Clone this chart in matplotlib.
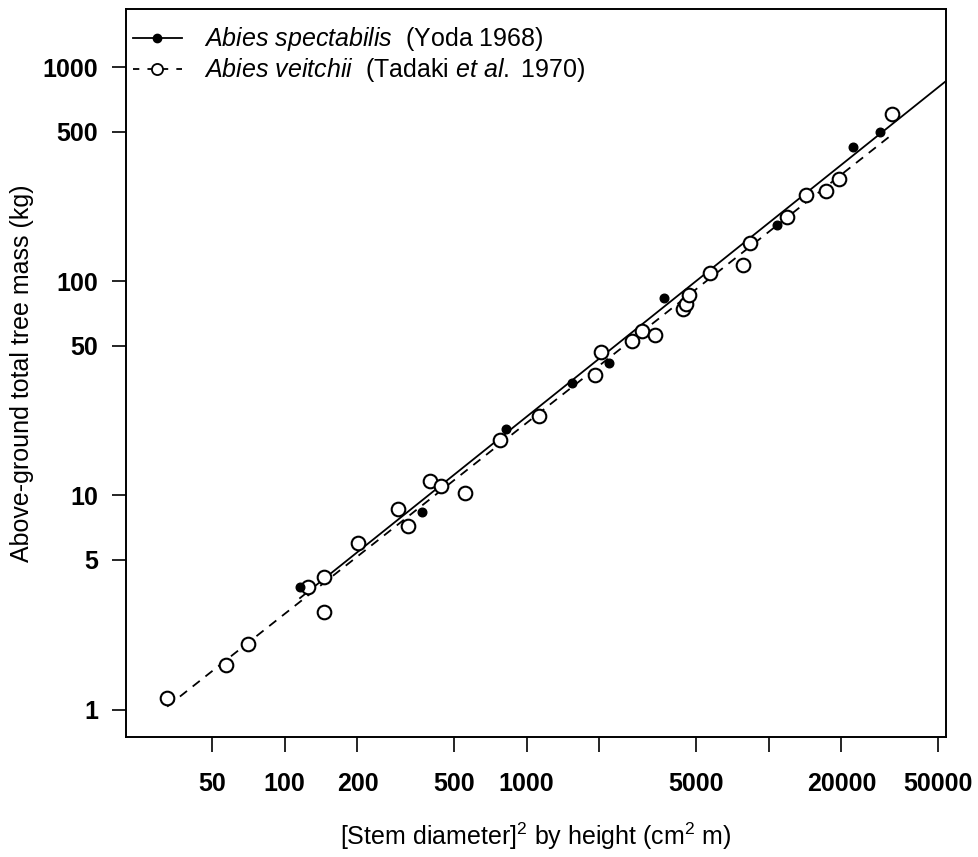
import matplotlib.pyplot as plt
import numpy as np
from matplotlib.lines import Line2D

plt.rcParams['font.family'] = 'Liberation Sans'
plt.rcParams['mathtext.fontset'] = 'custom'
plt.rcParams['mathtext.rm'] = 'Liberation Sans'
plt.rcParams['mathtext.it'] = 'Liberation Sans:italic'
plt.rcParams['mathtext.bf'] = 'Liberation Sans:bold'

# Abies spectabilis (Yoda 1968) - filled dots
spec_x = [115.8, 370, 823, 1536, 2188, 3706, 10790, 22290, 28840]
spec_y = [3.74, 8.37, 20.5, 33.7, 41.5, 84.0, 183.6, 424, 498]

# Abies veitchii (Tadaki et al. 1970) - open circles
veit_x = [32.7, 57.3, 70.6, 124.6, 145.5, 145.5, 201, 294, 324, 399, 443, 557, 777,
          1127, 1918, 2032, 2730, 3000, 3395, 4433, 4563, 4696, 5738, 7857, 8398,
          11940, 14300, 17290, 19580, 32430]
veit_y = [1.13, 1.61, 2.02, 3.74, 4.16, 2.85, 6.0, 8.65, 7.2, 11.7, 11.1, 10.3, 18.2,
          23.5, 36.6, 46.9, 52.7, 58.7, 56.2, 74.3, 78.5, 86.5, 109.6, 119.4, 151,
          200, 253, 265, 301, 606]

XTICKS = [50, 100, 200, 500, 1000, 2000, 5000, 10000, 20000, 50000]
XTICKLABELS = ['50', '100', '200', '500', '1000', '', '5000', '', '20000', '50000']
YTICKS = [1, 5, 10, 50, 100, 500, 1000]
XLIM = (22.1, 54100)
YLIM = (0.744, 1875)

fig = plt.figure(figsize=(9.79, 8.57), dpi=100)
ax = fig.add_axes([0.1287, 0.14, 0.8376, 0.8495])

# log-log fits
def fit(x, y):
    b, a = np.polyfit(np.log10(x), np.log10(y), 1)
    return a, b

a1, b1 = fit(spec_x, spec_y)
xs1 = np.array([min(spec_x), XLIM[1]])
ax.plot(xs1, 10**(a1 + b1*np.log10(xs1)), color='black', lw=1.3, zorder=2)

a2, b2 = fit(veit_x, veit_y)
xs2 = np.array([min(veit_x), max(veit_x)])
ax.plot(xs2, 10**(a2 + b2*np.log10(xs2)), color='black', lw=1.3, ls=(0, (5, 4)), zorder=2)

ax.plot(veit_x, veit_y, 'o', mfc='white', mec='black', mew=1.5, ms=9.8, ls='none', zorder=3)
ax.plot(spec_x, spec_y, 'o', mfc='black', mec='black', ms=6.2, ls='none', zorder=4)

ax.set_xscale('log')
ax.set_yscale('log')
ax.set_xlim(*XLIM)
ax.set_ylim(*YLIM)
ax.set_xticks(XTICKS)
ax.set_xticklabels(XTICKLABELS, fontweight='bold', fontsize=18)
ax.set_yticks(YTICKS)
ax.set_yticklabels([str(v) for v in YTICKS], fontweight='bold', fontsize=18)
ax.minorticks_off()
ax.tick_params(axis='x', length=11, width=1.2, pad=14)
ax.tick_params(axis='y', length=10, width=1.2, pad=10)
for s in ax.spines.values():
    s.set_linewidth(1.4)

ax.set_xlabel('[Stem diameter]$^2$ by height (cm$^2$ m)', fontsize=18)
ax.xaxis.set_label_coords(0.5, -0.136)
ax.xaxis.label.set_va('center')
ax.set_ylabel('Above-ground total tree mass (kg)', fontsize=18)
ax.yaxis.set_label_coords(-0.127, 0.5)
ax.yaxis.label.set_va('center')

handles = [
    Line2D([], [], color='black', lw=1.3, marker='o', ms=6, mfc='black'),
    Line2D([], [], color='black', lw=1.3, ls=(0, (3.5, 4.5)), marker='o', ms=8, mfc='white', mew=1.3),
]
labels = [r'$\it{Abies\ spectabilis}$  (Yoda 1968)',
          r'$\it{Abies\ veitchii}$  (Tadaki $\it{et\ al.}$ 1970)']
ax.legend(handles, labels, loc='upper left', frameon=False, fontsize=18,
          handlelength=1.95, handletextpad=0.88, labelspacing=0.12,
          borderaxespad=0.0, borderpad=0.28, bbox_to_anchor=(0.0, 0.987))

fig.savefig('out.png', dpi=100)
